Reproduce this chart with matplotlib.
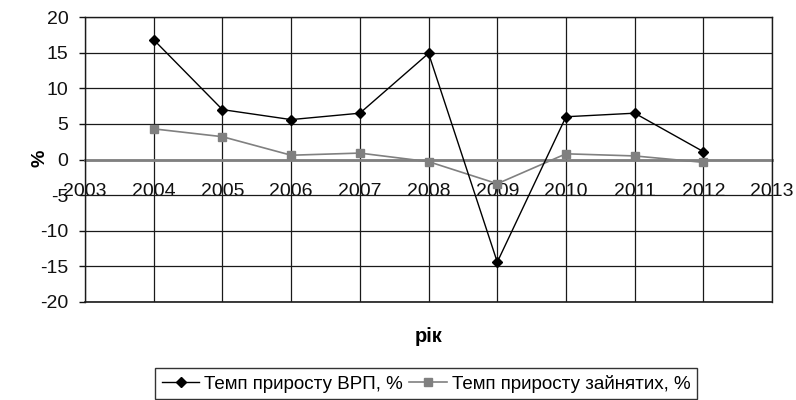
import matplotlib
matplotlib.use("Agg")
import matplotlib.pyplot as plt

plt.rcParams['font.family'] = ['Liberation Sans', 'DejaVu Sans']
plt.rcParams['axes.unicode_minus'] = False

# growth rates by year, %
years = [2004, 2005, 2006, 2007, 2008, 2009, 2010, 2011, 2012]
grp_growth = [16.8, 7.0, 5.6, 6.5, 14.9, -14.4, 6.0, 6.5, 1.1]
employment_growth = [4.3, 3.2, 0.6, 0.9, -0.3, -3.4, 0.8, 0.5, -0.4]
tick_years = list(range(2003, 2014))
y_ticks = list(range(-20, 21, 5))

fig = plt.figure(figsize=(7.96, 4.0), dpi=100)
ax = fig.add_axes([0.1068, 0.245, 0.8632, 0.7125])

ax.plot(years, grp_growth, color='black', lw=1.0, marker='D', ms=5,
        label='Темп приросту ВРП, %', zorder=4)
ax.plot(years, employment_growth, color='#808080', lw=1.2, marker='s', ms=5.5,
        label='Темп приросту зайнятих, %', zorder=3)

ax.set_xlim(2003, 2013)
ax.set_ylim(-20, 20)
ax.set_xticks(tick_years)
ax.set_yticks(y_ticks)

ax.grid(True, color='#1a1a1a', lw=0.9)
ax.set_axisbelow(True)
# bottom edge of the plot area (the spine itself moves up to zero)
ax.axhline(-20, color='#1a1a1a', lw=1.2, clip_on=False, zorder=1)

# category axis crosses at zero, labels sit just under it
ax.spines['bottom'].set_position(('data', 0))
ax.spines['bottom'].set_color('#808080')
ax.spines['bottom'].set_linewidth(2.0)
ax.spines['bottom'].set_zorder(2)
for side in ['left', 'right', 'top']:
    ax.spines[side].set_color('#1a1a1a')
    ax.spines[side].set_linewidth(1.0)

ax.tick_params(axis='x', length=0, pad=17, labelsize=14, colors='#111111')
ax.tick_params(axis='y', length=4.5, width=1, pad=7.5, labelsize=14, colors='#111111')

fig.text(40 / 796, 1 - 158 / 400, '%', rotation=90, fontsize=14, fontweight='bold',
         ha='center', va='center')
fig.text(429 / 796, 1 - 337 / 400, 'рік', fontsize=14.5, fontweight='bold',
         ha='center', va='center')

leg = fig.legend(loc='upper center', bbox_to_anchor=(426 / 796, 1 - 368 / 400), ncol=2,
                 fontsize=13.5, frameon=True, fancybox=False, edgecolor='black',
                 handlelength=2.0, columnspacing=0.35, handletextpad=0.25,
                 borderpad=0.35, borderaxespad=0)
leg.get_frame().set_linewidth(1.0)

fig.savefig('out.png', dpi=100, facecolor='white')
